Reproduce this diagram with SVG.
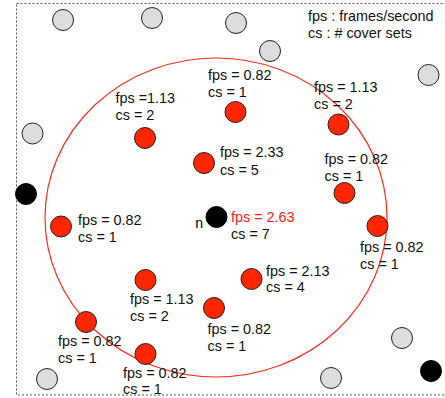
<svg xmlns="http://www.w3.org/2000/svg" width="445" height="398" viewBox="0 0 445 398">
<style>
text{font-family:"Liberation Sans",Arial,sans-serif;font-size:14.4px;fill:#111}
.g{fill:#ddd;stroke:#222;stroke-width:1}
.r{fill:#ff2600;stroke:#222;stroke-width:1}
.b{fill:#000;stroke:#000;stroke-width:1}
text.hl{fill:#ff1a1a}
text.n{font-family:"Liberation Mono","Courier New",monospace;font-size:14px;fill:#000}
</style>
<rect x="16.5" y="3.5" width="440" height="391.5" fill="none" stroke="#555" stroke-width="1" stroke-dasharray="2,2"/>
<ellipse cx="216" cy="217.5" rx="171" ry="159.5" fill="none" stroke="#ff2a1a" stroke-width="1.2"/>
<g id="legend"><text x="308" y="21">fps : frames/second</text><text x="308" y="38">cs : # cover sets</text></g>
<g id="gray-nodes">
<circle class="g" cx="63" cy="20" r="10.5"/>
<circle class="g" cx="152" cy="18" r="10.5"/>
<circle class="g" cx="236" cy="23" r="10.5"/>
<circle class="g" cx="270" cy="51" r="10.5"/>
<circle class="g" cx="428.5" cy="75" r="10.5"/>
<circle class="g" cx="32.5" cy="133.5" r="10.5"/>
<circle class="g" cx="47" cy="379" r="10.5"/>
<circle class="g" cx="331" cy="378" r="10.5"/>
<circle class="g" cx="402" cy="338" r="10.5"/>
</g>
<g id="black-nodes">
<circle class="b" cx="26" cy="194" r="10.5"/>
<circle class="b" cx="431" cy="371" r="10.5"/>
</g>
<g id="node-n">
<circle class="b" cx="216.5" cy="217" r="10.5"/>
<text class="n" x="195" y="228">n</text>
<text class="hl" x="231" y="222">fps = 2.63</text><text x="231" y="239">cs = 7</text>
</g>
<g id="n1"><circle class="r" cx="235.5" cy="112" r="10.5"/><text x="208" y="80">fps = 0.82</text><text x="208" y="97">cs = 1</text></g>
<g id="n2"><circle class="r" cx="338.5" cy="124.5" r="10.5"/><text x="314" y="92">fps = 1.13</text><text x="314" y="109">cs = 2</text></g>
<g id="n3"><circle class="r" cx="145" cy="138" r="10.5"/><text x="115.5" y="102.5">fps =1.13</text><text x="115.5" y="119.5">cs = 2</text></g>
<g id="n4"><circle class="r" cx="204" cy="163" r="10.5"/><text x="220" y="157">fps = 2.33</text><text x="220" y="174.5">cs = 5</text></g>
<g id="n5"><circle class="r" cx="344.5" cy="193" r="10.5"/><text x="324.5" y="163.5">fps = 0.82</text><text x="324.5" y="181">cs = 1</text></g>
<g id="n6"><circle class="r" cx="377.5" cy="226" r="10.5"/><text x="360" y="251.5">fps = 0.82</text><text x="360" y="268.5">cs = 1</text></g>
<g id="n7"><circle class="r" cx="61" cy="226.5" r="10.5"/><text x="78" y="224.5">fps = 0.82</text><text x="78" y="241.5">cs = 1</text></g>
<g id="n8"><circle class="r" cx="145.5" cy="280" r="10.5"/><text x="130" y="304">fps = 1.13</text><text x="130" y="321">cs = 2</text></g>
<g id="n9"><circle class="r" cx="251.5" cy="279" r="10.5"/><text x="266" y="276">fps = 2.13</text><text x="266" y="292">cs = 4</text></g>
<g id="n10"><circle class="r" cx="214" cy="308" r="10.5"/><text x="207.5" y="334">fps = 0.82</text><text x="207.5" y="351">cs = 1</text></g>
<g id="n11"><circle class="r" cx="86" cy="322" r="10.5"/><text x="58" y="345.5">fps = 0.82</text><text x="58" y="362.5">cs = 1</text></g>
<g id="n12"><circle class="r" cx="145.5" cy="354" r="10.5"/><text x="123" y="377.5">fps = 0.82</text><text x="123" y="394">cs = 1</text></g>
</svg>
